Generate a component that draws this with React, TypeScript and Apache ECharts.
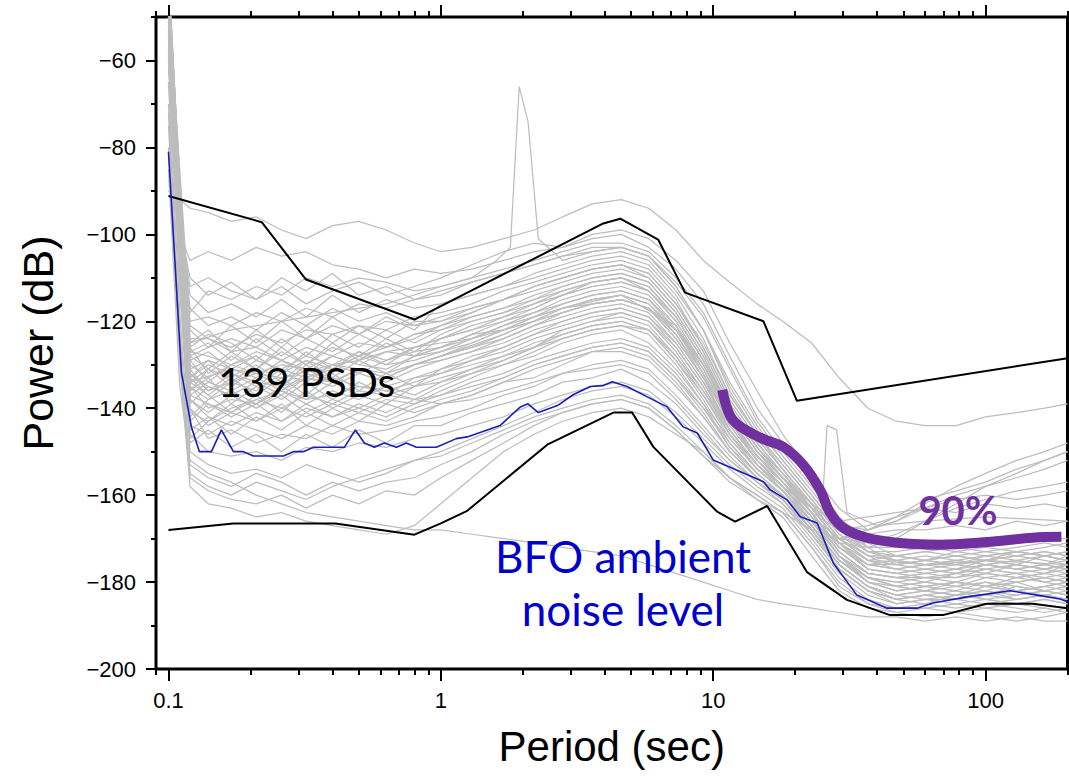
import React, { useEffect, useRef } from 'react';
import * as echarts from 'echarts';

// Shared period grid (sec) for the gray PSD curves
const GRID_X = [0.1, 0.11, 0.12, 0.14, 0.17, 0.21, 0.26, 0.32, 0.4, 0.5, 0.63, 0.8, 1, 1.3, 1.7, 2.2, 2.8, 3.6, 4.6, 5.8, 7.3, 9.2, 11.5, 14.5, 18, 23, 29, 37, 47, 60, 78, 100, 130, 165, 200];

// Gray PSD curves (dB), values at GRID_X
const PSD_01 = [-60, -110, -146, -150, -151, -150, -152, -149, -150, -148, -149, -147, -146, -144, -142, -139, -137, -135, -134, -136, -141, -147, -153, -158, -162, -170, -178, -183, -185, -184, -184, -183, -182, -183, -184];
const PSD_02 = [-55, -105, -140, -147, -145, -148, -146, -147, -144, -146, -145, -143, -142, -140, -137, -135, -132, -130, -129, -131, -137, -144, -151, -157, -161, -168, -176, -181, -183, -182, -183, -181, -182, -181, -182];
const PSD_03 = [-50, -100, -138, -142, -144, -141, -143, -140, -142, -139, -141, -138, -137, -135, -133, -130, -128, -126, -125, -127, -133, -140, -148, -155, -160, -167, -175, -180, -182, -181, -180, -181, -179, -180, -181];
const PSD_04 = [-45, -98, -135, -140, -138, -139, -136, -138, -137, -135, -136, -134, -132, -130, -128, -125, -123, -121, -120, -122, -129, -137, -146, -154, -159, -166, -174, -179, -180, -179, -180, -178, -179, -178, -177];
const PSD_05 = [-42, -95, -132, -135, -137, -134, -135, -133, -134, -131, -133, -130, -128, -126, -124, -121, -119, -117, -116, -118, -125, -134, -144, -152, -158, -165, -173, -178, -179, -178, -177, -178, -176, -177, -176];
const PSD_06 = [-40, -92, -130, -133, -130, -132, -130, -131, -128, -130, -127, -126, -124, -122, -120, -118, -115, -113, -112, -114, -121, -131, -142, -151, -157, -164, -172, -176, -177, -176, -176, -175, -176, -174, -175];
const PSD_07 = [-38, -90, -127, -128, -130, -127, -129, -126, -128, -125, -126, -123, -121, -119, -117, -114, -112, -110, -109, -111, -118, -128, -140, -149, -156, -163, -171, -175, -176, -175, -174, -175, -173, -174, -173];
const PSD_08 = [-40, -88, -124, -124, -126, -123, -125, -122, -123, -121, -122, -119, -118, -116, -113, -111, -109, -107, -106, -108, -115, -126, -138, -147, -154, -162, -170, -174, -174, -173, -172, -173, -172, -171, -172];
const PSD_09 = [-45, -85, -120, -119, -121, -118, -120, -117, -119, -116, -117, -115, -113, -111, -109, -107, -105, -104, -103, -105, -112, -122, -135, -145, -152, -160, -168, -172, -172, -171, -171, -170, -171, -170, -170];
const PSD_10 = [-48, -102, -142, -138, -134, -136, -132, -134, -130, -129, -127, -128, -126, -123, -122, -120, -118, -116, -115, -117, -122, -130, -141, -150, -157, -165, -174, -179, -181, -180, -181, -180, -182, -181, -180];
const PSD_11 = [-52, -108, -136, -131, -133, -129, -131, -128, -130, -127, -129, -126, -125, -124, -121, -119, -117, -115, -114, -116, -123, -133, -145, -153, -159, -167, -176, -181, -184, -183, -182, -184, -183, -182, -183];
const PSD_12 = [-44, -96, -128, -126, -124, -126, -122, -124, -121, -123, -120, -121, -119, -117, -115, -113, -111, -109, -108, -110, -117, -127, -139, -148, -155, -163, -171, -177, -178, -179, -178, -177, -178, -179, -178];
const PSD_13 = [-60, -95, -118, -113, -115, -112, -114, -110, -112, -110, -111, -113, -112, -110, -108, -106, -104, -102, -102, -104, -110, -118, -130, -142, -150, -158, -166, -172, -176, -177, -176, -177, -176, -177, -176];
const PSD_14 = [-70, -100, -106, -104, -106, -103, -105, -104, -107, -108, -110, -108, -109, -108, -106, -104, -103, -101, -100, -103, -108, -116, -128, -140, -148, -156, -165, -171, -174, -175, -174, -175, -174, -173, -174];
const PSD_15 = [-90, -92, -94, -95, -97, -96, -99, -101, -98, -97, -99, -102, -104, -103, -101, -99, -96, -93, -92, -94, -99, -106, -111, -116, -120, -125, -133, -140, -143, -144, -144, -142, -141, -140, -139];
const PSD_16 = [-55, -98, -112, -110, -113, -115, -112, -116, -113, -111, -114, -112, -110, -107, -104, -102, -103, -100, -99, -101, -106, -113, -125, -136, -146, -155, -163, -168, -166, -162, -158, -155, -152, -150, -148];
const PSD_17 = [-75, -125, -155, -158, -160, -157, -159, -161, -158, -156, -154, -152, -150, -147, -144, -141, -138, -136, -135, -137, -142, -148, -154, -159, -163, -171, -179, -184, -186, -185, -186, -185, -186, -187, -186];
const PSD_18 = [-80, -130, -158, -162, -163, -165, -164, -166, -167, -168, -169, -167, -162, -156, -150, -146, -143, -141, -140, -142, -146, -150, -156, -161, -165, -174, -182, -186, -187, -188, -187, -188, -189, -188, -187];
const PSD_19 = [-65, -118, -150, -153, -155, -154, -156, -153, -155, -157, -155, -152, -151, -148, -145, -142, -140, -138, -137, -139, -144, -150, -156, -160, -164, -172, -180, -185, -186, -186, -185, -186, -185, -186, -187];
const PSD_20 = [-50, -100, -133, -130, -132, -135, -131, -133, -130, -132, -129, -127, -126, -123, -120, -117, -114, -112, -111, -113, -119, -129, -141, -150, -156, -162, -167, -168, -166, -163, -160, -158, -156, -154, -152];
const PSD_21 = [-46, -97, -131, -136, -132, -134, -137, -133, -135, -132, -134, -131, -129, -127, -124, -121, -118, -116, -115, -117, -124, -133, -143, -151, -157, -163, -166, -165, -164, -163, -164, -162, -163, -162, -163];
const PSD_22 = [-43, -94, -126, -132, -128, -131, -127, -130, -126, -128, -124, -127, -123, -120, -118, -116, -113, -111, -110, -112, -119, -129, -140, -149, -156, -164, -172, -177, -178, -177, -178, -176, -177, -176, -177];
const PSD_23 = [-47, -99, -140, -144, -141, -143, -140, -142, -139, -141, -138, -139, -136, -133, -130, -127, -124, -122, -121, -123, -130, -139, -149, -156, -160, -168, -176, -181, -183, -184, -183, -182, -184, -183, -184];
const PSD_24 = [-41, -93, -129, -127, -131, -128, -132, -129, -131, -128, -130, -129, -127, -124, -121, -118, -116, -114, -113, -115, -122, -131, -143, -151, -157, -164, -173, -178, -179, -178, -179, -177, -178, -177, -178];
const PSD_25 = [-53, -104, -134, -137, -141, -138, -140, -137, -139, -136, -137, -135, -133, -131, -128, -126, -122, -120, -118, -120, -126, -135, -146, -153, -158, -166, -174, -180, -182, -181, -182, -183, -181, -182, -183];
const PSD_26 = [-58, -112, -144, -146, -143, -145, -147, -144, -146, -143, -144, -142, -139, -137, -134, -131, -129, -127, -126, -128, -134, -142, -150, -156, -161, -169, -177, -182, -185, -184, -185, -184, -185, -184, -185];
const PSD_27 = [-62, -97, -117, -121, -119, -122, -118, -121, -117, -120, -118, -121, -120, -117, -115, -112, -110, -108, -107, -109, -116, -125, -137, -146, -153, -161, -169, -174, -175, -174, -175, -174, -173, -174, -175];
const PSD_28 = [-49, -101, -137, -134, -136, -133, -136, -132, -134, -131, -133, -130, -128, -125, -122, -119, -117, -115, -114, -116, -122, -132, -144, -152, -158, -165, -170, -171, -169, -166, -163, -161, -159, -158, -157];
const PSD_29 = [-44, -96, -133, -129, -131, -133, -129, -132, -128, -130, -131, -128, -126, -124, -122, -119, -116, -114, -113, -115, -121, -130, -142, -151, -157, -165, -170, -169, -168, -168, -167, -168, -166, -167, -166];
const PSD_30 = [-85, -135, -152, -155, -157, -160, -162, -164, -165, -166, -167, -168, -168, -169, -170, -171, -172, -173, -174, -176, -178, -180, -182, -184, -185, -186, -187, -188, -188, -189, -188, -189, -188, -189, -189];
const PSD_31 = [-48, -99, -135, -138, -136, -139, -135, -138, -134, -137, -135, -133, -131, -129, -126, -123, -120, -118, -117, -119, -125, -134, -145, -153, -159, -166, -171, -172, -170, -166, -162, -158, -155, -152, -150];
const PSD_32 = [-58, -112, -148, -145, -149, -146, -150, -146, -149, -145, -148, -144, -144, -141, -139, -137, -134, -133, -131, -134, -139, -146, -152, -157, -162, -169, -177, -182, -184, -185, -183, -184, -185, -184, -185];
const PSD_33 = [-51, -104, -141, -143, -139, -143, -139, -144, -140, -143, -139, -141, -139, -137, -134, -133, -130, -127, -127, -129, -135, -142, -150, -156, -160, -167, -175, -180, -181, -182, -181, -182, -180, -182, -181];
const PSD_34 = [-47, -99, -137, -139, -141, -137, -141, -136, -140, -137, -139, -135, -134, -132, -130, -128, -125, -123, -122, -125, -131, -139, -147, -154, -159, -166, -174, -179, -181, -180, -181, -179, -180, -179, -180];
const PSD_35 = [-44, -97, -133, -137, -133, -137, -133, -137, -132, -136, -132, -135, -131, -128, -126, -123, -121, -119, -118, -120, -127, -136, -145, -153, -158, -165, -173, -178, -179, -180, -178, -179, -178, -180, -179];
const PSD_36 = [-41, -94, -131, -129, -134, -130, -134, -129, -133, -129, -132, -128, -127, -125, -122, -120, -117, -116, -115, -117, -124, -133, -143, -152, -157, -164, -172, -177, -178, -177, -178, -176, -177, -178, -176];
const PSD_37 = [-39, -91, -128, -131, -127, -131, -126, -130, -125, -129, -125, -128, -124, -121, -119, -117, -114, -112, -111, -113, -120, -130, -141, -150, -156, -163, -171, -176, -176, -175, -176, -174, -175, -176, -174];
const PSD_38 = [-40, -89, -125, -122, -127, -122, -126, -121, -125, -121, -124, -120, -120, -118, -115, -112, -110, -108, -107, -110, -117, -127, -139, -148, -155, -162, -170, -175, -174, -175, -173, -174, -173, -174, -173];
const PSD_39 = [-43, -87, -122, -126, -121, -125, -120, -124, -119, -123, -119, -122, -116, -114, -112, -110, -108, -106, -105, -107, -114, -124, -137, -146, -153, -161, -169, -173, -173, -172, -173, -172, -173, -172, -171];
const PSD_40 = [-48, -95, -121, -124, -127, -126, -129, -131, -133, -135, -136, -138, -139, -138, -136, -134, -132, -131, -130, -132, -138, -145, -152, -157, -161, -169, -177, -182, -184, -183, -184, -183, -184, -183, -182];
const PSD_41 = [-57, -110, -147, -143, -140, -138, -136, -133, -131, -128, -126, -124, -121, -118, -115, -112, -110, -108, -107, -109, -116, -126, -138, -147, -154, -162, -170, -175, -176, -175, -176, -175, -174, -175, -176];
const PSD_42 = [-46, -98, -136, -133, -139, -135, -138, -134, -138, -134, -137, -133, -132, -129, -127, -124, -122, -120, -119, -121, -128, -136, -146, -154, -159, -166, -174, -179, -180, -181, -180, -181, -180, -179, -180];
const PSD_43 = [-52, -106, -139, -135, -137, -140, -136, -139, -136, -138, -135, -137, -134, -131, -129, -126, -124, -122, -121, -122, -129, -138, -148, -155, -160, -167, -175, -180, -182, -181, -182, -180, -181, -182, -181];
const PSD_44 = [-45, -96, -129, -134, -130, -128, -132, -127, -131, -127, -130, -126, -124, -122, -119, -116, -114, -111, -110, -113, -120, -130, -141, -150, -156, -164, -172, -176, -177, -178, -177, -176, -177, -176, -177];
const PSD_45 = [-42, -93, -126, -123, -125, -129, -124, -128, -123, -126, -122, -125, -122, -119, -117, -115, -112, -110, -109, -111, -118, -128, -140, -149, -155, -163, -171, -176, -175, -176, -175, -176, -175, -174, -175];
const PSD_46 = [-54, -107, -143, -139, -142, -139, -143, -139, -142, -140, -142, -139, -137, -134, -132, -129, -127, -125, -124, -126, -132, -140, -149, -155, -160, -168, -176, -181, -183, -182, -183, -182, -183, -182, -183];
const PSD_47 = [-49, -101, -134, -131, -135, -131, -135, -131, -134, -131, -133, -130, -129, -127, -125, -122, -120, -118, -117, -119, -126, -135, -145, -153, -158, -166, -174, -178, -179, -179, -179, -178, -179, -178, -179];
const PSD_48 = [-65, -98, -110, -114, -111, -115, -110, -113, -109, -114, -112, -115, -114, -111, -109, -107, -105, -103, -103, -105, -111, -119, -131, -143, -151, -159, -167, -173, -175, -176, -175, -176, -175, -176, -175];
const PSD_49 = [-70, -122, -153, -156, -158, -155, -157, -160, -157, -159, -157, -156, -153, -150, -146, -143, -141, -139, -138, -140, -145, -151, -157, -161, -164, -168, -170, -168, -165, -161, -159, -157, -154, -152, -150];
const PSD_50 = [-50, -103, -138, -141, -137, -140, -137, -141, -138, -140, -137, -138, -135, -132, -129, -126, -123, -121, -120, -122, -128, -137, -147, -154, -159, -167, -175, -179, -181, -182, -180, -181, -182, -181, -180];
const PSD_51 = [-40, -90, -127, -125, -129, -124, -128, -124, -127, -123, -126, -123, -122, -120, -118, -115, -113, -111, -110, -112, -119, -129, -140, -149, -155, -163, -171, -175, -177, -176, -177, -175, -176, -177, -176];
const PSD_52 = [-47, -98, -132, -136, -134, -132, -135, -130, -134, -131, -133, -130, -128, -126, -123, -120, -118, -116, -115, -117, -123, -132, -143, -151, -157, -164, -168, -167, -165, -163, -161, -160, -161, -160, -159];
const PSD_53 = [-60, -96, -114, -118, -116, -119, -115, -119, -114, -118, -115, -117, -116, -114, -112, -109, -107, -105, -104, -106, -113, -122, -134, -144, -152, -160, -168, -173, -174, -173, -174, -173, -174, -173, -174];
const PSD_54 = [-56, -109, -145, -142, -146, -142, -145, -141, -144, -141, -143, -140, -138, -136, -133, -130, -128, -126, -125, -127, -133, -141, -150, -156, -160, -168, -177, -182, -184, -183, -184, -185, -184, -183, -184];
const PSD_55 = [-72, -128, -156, -159, -161, -162, -160, -163, -160, -162, -159, -160, -156, -152, -148, -144, -141, -139, -138, -140, -145, -151, -156, -160, -164, -172, -181, -185, -187, -186, -187, -186, -187, -186, -187];

// Two PSDs with narrow spikes (own period samples)
const SPIKE1_X = [0.1, 0.11, 0.12, 0.17, 0.26, 0.4, 0.63, 1, 1.3, 1.6, 1.8, 1.94, 2.09, 2.28, 2.8, 3.6, 4.6, 5.8, 7.3, 9.2, 11.5, 14.5, 18, 23, 29, 40, 60, 100, 200];
const SPIKE1_Y = [-46, -97, -125, -122, -120, -118, -116, -112, -110, -106, -103, -66, -74, -101, -106, -104, -103, -105, -112, -122, -136, -146, -154, -162, -170, -175, -176, -175, -176];
const SPIKE2_X = [0.1, 0.11, 0.12, 0.17, 0.26, 0.4, 0.63, 1, 1.7, 2.8, 4.6, 7.3, 11.5, 14.5, 18, 23, 25, 26.2, 28.4, 31, 40, 60, 100, 200];
const SPIKE2_Y = [-48, -99, -134, -131, -133, -130, -132, -128, -123, -117, -114, -121, -143, -152, -158, -163, -165, -144, -145, -164, -167, -166, -165, -166];

// BFO ambient noise level (blue)
const BFO_X = [0.1, 0.1116, 0.1214, 0.1299, 0.1438, 0.1564, 0.1732, 0.1884, 0.2051, 0.2643, 0.2875, 0.313, 0.3404, 0.4424, 0.4857, 0.524, 0.57, 0.62, 0.687, 0.747, 0.813, 0.963, 1.14, 1.25, 1.65, 1.96, 2.09, 2.28, 2.68, 3.06, 3.54, 3.95, 4.26, 4.83, 5.73, 6.78, 7.76, 8.74, 10, 12.6, 15.3, 16.2, 18.7, 20.9, 24.1, 27.6, 33.7, 43.5, 56.1, 64.1, 85.5, 123, 154.6, 187.6, 200];
const BFO_Y = [-81, -131.8, -144.3, -150, -150, -145, -150, -150, -151, -151, -150, -150, -149, -149, -145, -148, -149, -148, -149, -148, -149, -149, -147, -146.6, -144, -139.7, -139, -141, -139.4, -136.9, -135, -134.8, -133.9, -135, -137.4, -139.7, -144.3, -145.7, -151.9, -154.6, -156.9, -158.8, -161.1, -165, -166.4, -175.6, -183, -186, -186, -184.8, -183.4, -182, -183, -183.9, -184.5];

// Upper / lower black envelopes
const HIGH_X = [0.1, 0.22, 0.32, 0.8, 3.95, 4.56, 6.28, 7.89, 15.3, 20.3, 200];
const HIGH_Y = [-91.2, -97.2, -110.4, -119.6, -97.5, -96.4, -101.2, -113.4, -120, -138.3, -128.5];
const LOW_X = [0.1, 0.173, 0.41, 0.8, 1.0, 1.25, 2.46, 4.3, 5.04, 6.03, 10.34, 12.04, 15.78, 22.1, 31, 44.6, 69.8, 101, 149, 200];
const LOW_Y = [-168, -166.5, -166.5, -169.1, -166.5, -163.6, -148.4, -141, -141, -148.9, -163.8, -166.1, -162.5, -177.7, -184.1, -187.6, -187.6, -185, -185, -186];

// 90% curve (purple)
const P90_X = [10.8, 11.8, 14.9, 18.1, 21.4, 24.7, 26.9, 30, 36.7, 48.5, 68.1, 101, 149, 190];
const P90_Y = [-135.8, -142.7, -146.8, -148.9, -153, -158.8, -164.1, -167.5, -169.8, -171, -171.4, -170.8, -169.8, -169.6];

// Axis ticks
const X_MAJOR = [0.1, 1, 10, 100];
const X_MINOR = [0.09, 0.2, 0.3, 0.4, 0.5, 0.6, 0.7, 0.8, 0.9, 2, 3, 4, 5, 6, 7, 8, 9, 20, 30, 40, 50, 60, 70, 80, 90, 200];
const Y_MAJOR = [-200, -180, -160, -140, -120, -100, -80, -60];
const Y_MINOR = [-190, -170, -150, -130, -110, -90, -70, -50];

const GRAY_CURVES = [PSD_01, PSD_02, PSD_03, PSD_04, PSD_05, PSD_06, PSD_07, PSD_08, PSD_09, PSD_10, PSD_11, PSD_12, PSD_13, PSD_14, PSD_15, PSD_16, PSD_17, PSD_18, PSD_19, PSD_20, PSD_21, PSD_22, PSD_23, PSD_24, PSD_25, PSD_26, PSD_27, PSD_28, PSD_29, PSD_30, PSD_31, PSD_32, PSD_33, PSD_34, PSD_35, PSD_36, PSD_37, PSD_38, PSD_39, PSD_40, PSD_41, PSD_42, PSD_43, PSD_44, PSD_45, PSD_46, PSD_47, PSD_48, PSD_49, PSD_50, PSD_51, PSD_52, PSD_53, PSD_54, PSD_55];

const FONT = 'Liberation Sans';
const pair = (xs: number[], ys: number[]) => xs.map((x, i) => [x, ys[i]]);

function buildOption() {
  const gray = { color: '#bdbdbd', width: 1.25 };
  const lineBase = { type: 'line', symbol: 'none', showSymbol: false, silent: true, animation: false };
  const series: any[] = [];
  GRAY_CURVES.forEach((c) => series.push({ ...lineBase, data: pair(GRID_X, c), lineStyle: gray, z: 2 }));
  series.push({ ...lineBase, data: pair(SPIKE1_X, SPIKE1_Y), lineStyle: gray, z: 2 });
  series.push({ ...lineBase, data: pair(SPIKE2_X, SPIKE2_Y), lineStyle: gray, z: 2 });
  series.push({ ...lineBase, data: pair(HIGH_X, HIGH_Y), lineStyle: { color: '#000', width: 2 }, z: 3 });
  series.push({ ...lineBase, data: pair(LOW_X, LOW_Y), lineStyle: { color: '#000', width: 2 }, z: 3 });
  series.push({ ...lineBase, data: pair(BFO_X, BFO_Y), lineStyle: { color: '#1c1cb8', width: 1.6 }, z: 4 });
  series.push({ ...lineBase, data: pair(P90_X, P90_Y), smooth: 0.35, lineStyle: { color: '#7030a0', width: 10, cap: 'butt' }, z: 5 });

  const xBase = { type: 'log', logBase: 10, min: 0.09, max: 200, splitLine: { show: false }, axisLine: { show: false } };
  const tickStyle = { color: '#000', width: 2 };
  const xAxis = [
    {
      ...xBase, position: 'bottom',
      axisTick: { show: true, inside: false, length: 12, lineStyle: tickStyle, customValues: X_MAJOR },
      axisLabel: {
        show: true, customValues: X_MAJOR, margin: 20, color: '#000', fontFamily: FONT, fontSize: 22,
        formatter: (v: number) => (v < 0.5 ? '0.1' : String(Math.round(v))),
      },
      name: 'Period (sec)', nameLocation: 'middle', nameGap: 56,
      nameTextStyle: { fontFamily: FONT, fontSize: 42, color: '#000' },
    },
    { ...xBase, position: 'bottom', axisTick: { show: true, length: 6, lineStyle: tickStyle, customValues: X_MINOR }, axisLabel: { show: false } },
    { ...xBase, position: 'top', axisTick: { show: true, length: 12, lineStyle: tickStyle, customValues: X_MAJOR }, axisLabel: { show: false } },
    { ...xBase, position: 'top', axisTick: { show: true, length: 6, lineStyle: tickStyle, customValues: X_MINOR }, axisLabel: { show: false } },
  ];
  const yBase = { type: 'value', min: -200, max: -50, splitLine: { show: false }, axisLine: { show: false } };
  const yAxis = [
    {
      ...yBase, position: 'left',
      axisTick: { show: true, length: 10, lineStyle: tickStyle, customValues: Y_MAJOR },
      axisLabel: {
        show: true, customValues: Y_MAJOR, margin: 20, color: '#000', fontFamily: FONT, fontSize: 22,
        formatter: (v: number) => (v < 0 ? '\u2212' : '') + Math.abs(v),
      },
      name: 'Power (dB)', nameLocation: 'middle', nameGap: 97, nameRotate: 90,
      nameTextStyle: { fontFamily: FONT, fontSize: 43, color: '#000' },
    },
    { ...yBase, position: 'left', axisTick: { show: true, length: 5, lineStyle: tickStyle, customValues: Y_MINOR }, axisLabel: { show: false } },
  ];

  return {
    animation: false,
    backgroundColor: '#fff',
    grid: { left: 156, right: 1.5, top: 17, bottom: 107, show: true, borderColor: '#000', borderWidth: 3, backgroundColor: 'transparent' },
    xAxis,
    yAxis,
    series,
    graphic: [
      { type: 'text', x: 218, y: 381, z: 10, style: { text: '139 PSDs', fill: '#000', fontFamily: 'Lato', fontSize: 41, align: 'left', verticalAlign: 'middle' } },
      { type: 'text', x: 623, y: 556, z: 10, style: { text: 'BFO ambient', fill: '#0000cc', fontFamily: 'Lato', fontSize: 44, align: 'center', verticalAlign: 'middle' } },
      { type: 'text', x: 623, y: 609, z: 10, style: { text: 'noise level', fill: '#0000cc', fontFamily: 'Lato', fontSize: 44, align: 'center', verticalAlign: 'middle' } },
      { type: 'text', x: 958, y: 510, z: 10, style: { text: '90%', fill: '#7030a0', fontFamily: 'Lato', fontWeight: 'bold', fontSize: 40, align: 'center', verticalAlign: 'middle' } },
    ],
  };
}

export default function App() {
  const ref = useRef<HTMLDivElement>(null);
  useEffect(() => {
    document.body.style.margin = '0';
    const chart = echarts.init(ref.current!, null, { renderer: 'svg' });
    chart.setOption(buildOption() as any);
    return () => chart.dispose();
  }, []);
  return <div ref={ref} style={{ width: 1069, height: 776 }} />;
}
